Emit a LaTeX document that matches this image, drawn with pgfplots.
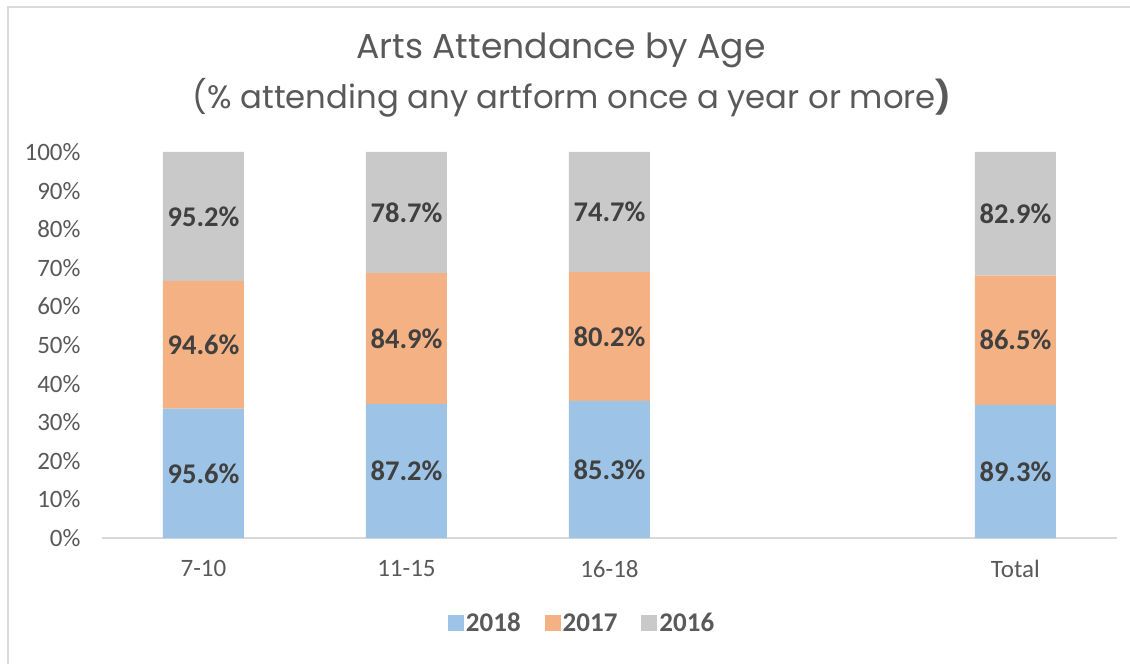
\documentclass[border=0pt]{standalone}
\usepackage{pgfplots}
\pgfplotsset{compat=1.18}
\usepackage{pgfplotstable}
\usepackage{fontspec}
\setmainfont{Carlito}
\newfontfamily\titlefont{Poppins}

\definecolor{c2018}{HTML}{9DC3E6}
\definecolor{c2017}{HTML}{F4B183}
\definecolor{c2016}{HTML}{C9C9C9}
\definecolor{txt}{HTML}{595959}
\definecolor{lbl}{HTML}{404040}
\definecolor{gridc}{HTML}{D9D9D9}

% raw attendance %, columns: 2018, 2017, 2016
\pgfplotstableread{
x a b c
0 95.6 94.6 95.2
1 87.2 84.9 78.7
2 85.3 80.2 74.7
4 89.3 86.5 82.9
}\arts

\begin{document}
\begin{tikzpicture}[x=1pt,y=1pt]
\useasboundingbox (0,0) rectangle (1130,664);
\draw[gridc, line width=2pt] (8,0) -- (8,657) -- (1130,657);
\node[font=\titlefont\fontsize{34.6}{40}\selectfont, text=txt] at (561,614) {Arts Attendance by Age};
\node[font=\titlefont\fontsize{32.3}{38}\selectfont, text=txt] at (572,566) {(\% attending any artform once a year or more\textbf{)}};
\begin{axis}[
    at={(102pt,126pt)}, anchor=south west,
    width=1015pt, height=386pt, scale only axis,
    xmin=-0.5, xmax=4.5, ymin=0, ymax=100,
    ybar stacked, bar width=81pt,
    axis lines*=left,
    x axis line style={draw=gridc, line width=2pt},
    y axis line style={draw=none},
    tick style={draw=none},
    xtick={0,1,2,4}, xticklabels={7-10,11-15,16-18,Total},
    ytick={0,10,...,100},
    yticklabel={\pgfmathprintnumber{\tick}\%},
    /pgf/number format/assume math mode=true,
    ticklabel style={font=\fontsize{25}{29}\selectfont, text=txt},
    yticklabel style={xshift=-18pt},
    xticklabel style={yshift=-19pt},
    clip=false,
    point meta=explicit,
    nodes near coords={\pgfmathprintnumber[fixed,zerofill,precision=1]{\pgfplotspointmeta}\%},
    every node near coord/.append style={font=\bfseries\fontsize{28.5}{32}\selectfont, text=lbl, anchor=center},
    legend columns=3,
    legend style={at={(0.473,-0.220)}, anchor=center, draw=none, fill=none,
        font=\bfseries\fontsize{27}{31}\selectfont, text=txt,
        /tikz/every even column/.append style={column sep=22pt}},
    legend image code/.code={\fill[#1] (0pt,-8pt) rectangle (16pt,8pt);},
]
\addplot[fill=c2018, draw=none]
    table[x=x, y expr=\thisrow{a}/(\thisrow{a}+\thisrow{b}+\thisrow{c})*100, meta=a] {\arts};
\addplot[fill=c2017, draw=none]
    table[x=x, y expr=\thisrow{b}/(\thisrow{a}+\thisrow{b}+\thisrow{c})*100, meta=b] {\arts};
\addplot[fill=c2016, draw=none]
    table[x=x, y expr=\thisrow{c}/(\thisrow{a}+\thisrow{b}+\thisrow{c})*100, meta=c] {\arts};
\legend{2018,2017,2016}
\end{axis}
\end{tikzpicture}
\end{document}
